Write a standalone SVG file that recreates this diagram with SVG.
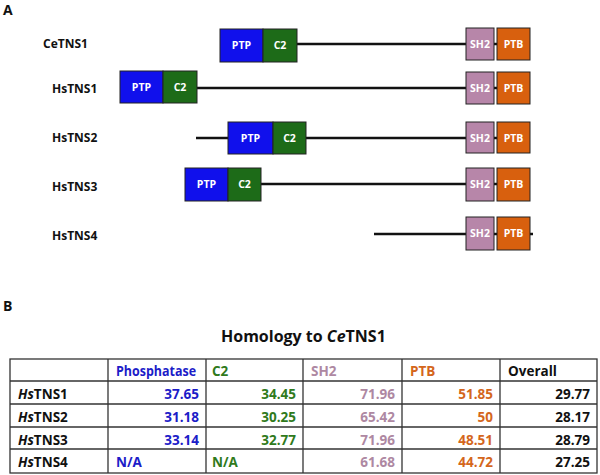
<svg xmlns="http://www.w3.org/2000/svg" width="600" height="475" viewBox="0 0 600 475">
<style>
text{font-family:"Open Sans","Liberation Sans",sans-serif}
.lbl{font-size:12px;font-weight:bold;fill:#111}
.panel{font-size:14px;font-weight:bold;fill:#111}
.dom{stroke:#222;stroke-width:1}
.ptp{fill:#1010ec}
.c2{fill:#1d6b18}
.sh2{fill:#b786a9}
.ptb{fill:#d8600e}
.dt{font-size:10.5px;font-weight:bold;fill:#fff;text-anchor:middle}
.bb{stroke:#111;stroke-width:2.5}
.tl{stroke:#333;stroke-width:1.3;fill:none}
.tt{font-size:13.5px;font-weight:bold}
.r{text-anchor:end}
.blue{fill:#1c1cc8}
.green{fill:#2f7a1c}
.mauve{fill:#ae88a2}
.orange{fill:#d4661c}
.blk{fill:#111}
</style>
<text class="panel" x="3" y="15">A</text>
<g id="connectors">
<line class="bb" x1="297" y1="44" x2="466" y2="44"/>
<line class="bb" x1="197" y1="88" x2="466" y2="88"/>
<line class="bb" x1="196" y1="138" x2="228" y2="138"/>
<line class="bb" x1="306" y1="138" x2="466" y2="138"/>
<line class="bb" x1="261" y1="184" x2="466" y2="184"/>
<line class="bb" x1="374" y1="234" x2="466" y2="234"/>
<line class="bb" x1="494" y1="44" x2="497" y2="44"/>
<line class="bb" x1="494" y1="88" x2="497" y2="88"/>
<line class="bb" x1="494" y1="138" x2="497" y2="138"/>
<line class="bb" x1="494" y1="184" x2="497" y2="184"/>
<line class="bb" x1="494" y1="234" x2="497" y2="234"/>
<line class="bb" x1="530" y1="234" x2="533" y2="234"/>
</g>
<g id="CeTNS1">
<text class="lbl" x="43" y="48">CeTNS1</text>
<rect class="dom ptp" x="220" y="29" width="43" height="33"/><text class="dt" x="241.5" y="49">PTP</text>
<rect class="dom c2" x="263" y="29" width="34" height="33"/><text class="dt" x="280" y="49">C2</text>
<rect class="dom sh2" x="466" y="28" width="28" height="32"/><text class="dt" x="480" y="48">SH2</text>
<rect class="dom ptb" x="497" y="28" width="33" height="32"/><text class="dt" x="513.5" y="48">PTB</text>
</g>
<g id="HsTNS1">
<text class="lbl" x="52" y="93">HsTNS1</text>
<rect class="dom ptp" x="120" y="71" width="43" height="32"/><text class="dt" x="141.5" y="91">PTP</text>
<rect class="dom c2" x="163" y="71" width="34" height="32"/><text class="dt" x="180" y="91">C2</text>
<rect class="dom sh2" x="466" y="72" width="28" height="32"/><text class="dt" x="480" y="92">SH2</text>
<rect class="dom ptb" x="497" y="72" width="33" height="32"/><text class="dt" x="513.5" y="92">PTB</text>
</g>
<g id="HsTNS2">
<text class="lbl" x="52" y="142">HsTNS2</text>
<rect class="dom ptp" x="228" y="122" width="45" height="32"/><text class="dt" x="250.5" y="142">PTP</text>
<rect class="dom c2" x="273" y="122" width="33" height="32"/><text class="dt" x="289.5" y="142">C2</text>
<rect class="dom sh2" x="466" y="122" width="28" height="31"/><text class="dt" x="480" y="141.5">SH2</text>
<rect class="dom ptb" x="497" y="122" width="33" height="31"/><text class="dt" x="513.5" y="141.5">PTB</text>
</g>
<g id="HsTNS3">
<text class="lbl" x="52" y="191">HsTNS3</text>
<rect class="dom ptp" x="185" y="168" width="43" height="33"/><text class="dt" x="206.5" y="188">PTP</text>
<rect class="dom c2" x="228" y="168" width="33" height="33"/><text class="dt" x="244.5" y="188">C2</text>
<rect class="dom sh2" x="466" y="168" width="28" height="33"/><text class="dt" x="480" y="188">SH2</text>
<rect class="dom ptb" x="497" y="168" width="33" height="33"/><text class="dt" x="513.5" y="188">PTB</text>
</g>
<g id="HsTNS4">
<text class="lbl" x="52" y="240">HsTNS4</text>
<rect class="dom sh2" x="466" y="217" width="28" height="33"/><text class="dt" x="480" y="237">SH2</text>
<rect class="dom ptb" x="497" y="217" width="33" height="33"/><text class="dt" x="513.5" y="237">PTB</text>
</g>
<text class="panel" x="3" y="311">B</text>
<text x="221" y="342" style="font-size:16px;font-weight:bold;fill:#111">Homology to <tspan font-style="italic">Ce</tspan>TNS1</text>
<g id="table">
<rect class="tl" x="10" y="359" width="587" height="114"/>
<line class="tl" x1="10" y1="381" x2="597" y2="381"/>
<line class="tl" x1="10" y1="404" x2="597" y2="404"/>
<line class="tl" x1="10" y1="427" x2="597" y2="427"/>
<line class="tl" x1="10" y1="449" x2="597" y2="449"/>
<line class="tl" x1="108" y1="359" x2="108" y2="473"/>
<line class="tl" x1="206" y1="359" x2="206" y2="473"/>
<line class="tl" x1="303" y1="359" x2="303" y2="473"/>
<line class="tl" x1="402" y1="359" x2="402" y2="473"/>
<line class="tl" x1="500" y1="359" x2="500" y2="473"/>
<text class="tt blue" x="116" y="376" textLength="80" lengthAdjust="spacingAndGlyphs">Phosphatase</text>
<text class="tt green" x="212" y="376">C2</text>
<text class="tt mauve" x="311" y="376" font-weight="normal">SH2</text>
<text class="tt orange" x="410" y="376">PTB</text>
<text class="tt blk" x="508" y="376">Overall</text>
<text class="tt blk" x="18" y="399"><tspan font-style="italic">Hs</tspan>TNS1</text>
<text class="tt blk" x="18" y="422"><tspan font-style="italic">Hs</tspan>TNS2</text>
<text class="tt blk" x="18" y="445"><tspan font-style="italic">Hs</tspan>TNS3</text>
<text class="tt blk" x="18" y="467"><tspan font-style="italic">Hs</tspan>TNS4</text>
<text class="tt blue r" x="199" y="399">37.65</text>
<text class="tt blue r" x="199" y="422">31.18</text>
<text class="tt blue r" x="199" y="445">33.14</text>
<text class="tt blue" x="116" y="467">N/A</text>
<text class="tt green r" x="296" y="399">34.45</text>
<text class="tt green r" x="296" y="422">30.25</text>
<text class="tt green r" x="296" y="445">32.77</text>
<text class="tt green" x="212" y="467">N/A</text>
<text class="tt mauve r" x="395" y="399">71.96</text>
<text class="tt mauve r" x="395" y="422">65.42</text>
<text class="tt mauve r" x="395" y="445">71.96</text>
<text class="tt mauve r" x="395" y="467">61.68</text>
<text class="tt orange r" x="493" y="399">51.85</text>
<text class="tt orange r" x="493" y="422">50</text>
<text class="tt orange r" x="493" y="445">48.51</text>
<text class="tt orange r" x="493" y="467">44.72</text>
<text class="tt blk r" x="590" y="399">29.77</text>
<text class="tt blk r" x="590" y="422">28.17</text>
<text class="tt blk r" x="590" y="445">28.79</text>
<text class="tt blk r" x="590" y="467">27.25</text>
</g>
</svg>
